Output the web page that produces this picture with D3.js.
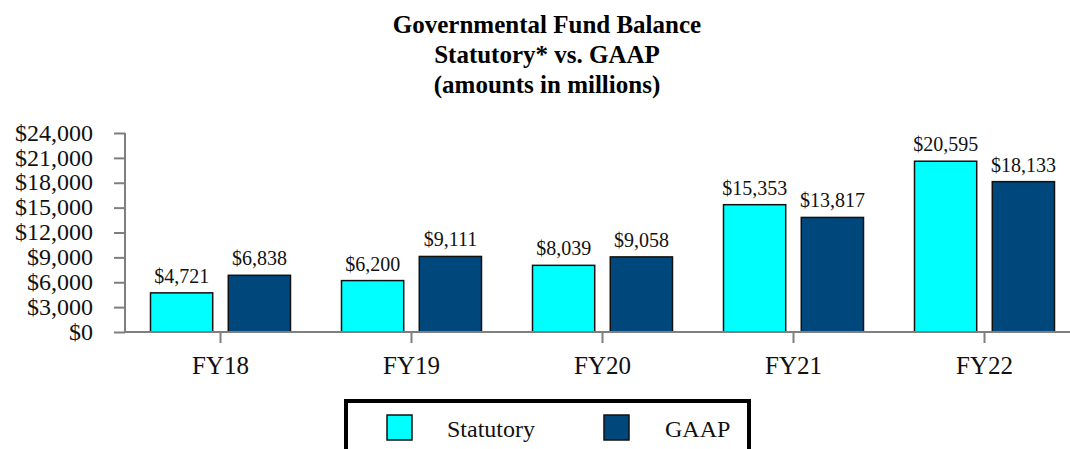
<!DOCTYPE html>
<html>
<head>
<meta charset="utf-8">
<script src="https://cdn.jsdelivr.net/npm/d3@7/dist/d3.min.js"></script>
<style>
  html, body { margin: 0; padding: 0; background: #fff; }
  svg { display: block; font-family: "Liberation Serif", "Times New Roman", serif; }
</style>
</head>
<body>
<svg id="chart" width="1070" height="449"></svg>
<script>
// Fund balance, amounts in millions
const years = ["FY18", "FY19", "FY20", "FY21", "FY22"];
const statutory = [4721, 6200, 8039, 15353, 20595];
const gaap = [6838, 9111, 9058, 13817, 18133];
const seriesNames = ["Statutory", "GAAP"];
const yTicks = [0, 3000, 6000, 9000, 12000, 15000, 18000, 21000, 24000];
const titleLines = ["Governmental Fund Balance", "Statutory* vs. GAAP", "(amounts in millions)"];

const colors = { Statutory: "#00ffff", GAAP: "#00487c" };
const axisGray = "#7f7f7f";
const serif = "'Liberation Serif', 'Times New Roman', serif";

const svg = d3.select("#chart");

const x = d3.scaleBand().domain(years).range([125, 1080]);
const y = d3.scaleLinear().domain([0, 24000]).range([332, 133]);
const inner = d3.scaleBand().domain(seriesNames).range([-70, 70]).paddingInner(0.2);

const money = v => "$" + d3.format(",")(v);

// Title
svg.append("text")
  .attr("x", 547).attr("y", 33)
  .attr("text-anchor", "middle")
  .style("font-weight", "bold").style("font-size", "25px")
  .attr("fill", "#000")
  .selectAll("tspan").data(titleLines).join("tspan")
  .attr("x", 547).attr("dy", (d, i) => i === 0 ? 0 : 30)
  .text(d => d);

// Bars
const rows = years.map((yr, i) => ({ yr, values: [
  { key: "Statutory", v: statutory[i] },
  { key: "GAAP", v: gaap[i] }
]}));

const groups = svg.append("g").selectAll("g").data(rows).join("g")
  .attr("transform", d => `translate(${x(d.yr) + x.bandwidth() / 2},0)`);

groups.selectAll("rect").data(d => d.values).join("rect")
  .attr("x", d => inner(d.key))
  .attr("width", inner.bandwidth())
  .attr("y", d => y(d.v))
  .attr("height", d => y(0) - y(d.v))
  .attr("fill", d => colors[d.key])
  .attr("stroke", "#111")
  .attr("stroke-width", 1.5);

groups.selectAll("text").data(d => d.values).join("text")
  .attr("x", d => inner(d.key) + inner.bandwidth() / 2)
  .attr("y", d => y(d.v) - 10)
  .attr("text-anchor", "middle")
  .style("font-size", "20px")
  .attr("fill", "#111")
  .text(d => money(d.v));

// Y axis
const yAxis = d3.axisLeft(y).tickValues(yTicks).tickSize(11).tickPadding(21)
  .tickFormat(money);
const gy = svg.append("g").attr("transform", "translate(125,0)").call(yAxis);
gy.select(".domain").attr("stroke", axisGray).attr("stroke-width", 2)
  .attr("d", `M0,${y(24000)}V${y(0)}`);
gy.selectAll(".tick line").attr("stroke", axisGray).attr("stroke-width", 2);
gy.selectAll(".tick text").style("font-size", "24px")
  .style("font-family", serif)
  .attr("fill", "#111").attr("dy", "0.3em");

// X axis
const xAxis = d3.axisBottom(x).tickSize(11).tickPadding(13);
const gx = svg.append("g").attr("transform", `translate(0,${y(0)})`).call(xAxis);
gx.select(".domain").attr("stroke", axisGray).attr("stroke-width", 2)
  .attr("d", "M125,0H1070");
gx.selectAll(".tick line").attr("stroke", axisGray).attr("stroke-width", 2);
gx.selectAll(".tick text").style("font-size", "25px")
  .style("font-family", serif)
  .attr("fill", "#111");

// Legend
const legend = svg.append("g");
legend.append("rect")
  .attr("x", 346).attr("y", 401).attr("width", 403).attr("height", 70)
  .attr("fill", "#fff").attr("stroke", "#000").attr("stroke-width", 4);
const legendX = [387, 604];
const items = legend.selectAll("g.item").data(seriesNames).join("g")
  .attr("class", "item")
  .attr("transform", (d, i) => `translate(${legendX[i]},415)`);
items.append("rect")
  .attr("width", 25).attr("height", 25)
  .attr("fill", d => colors[d])
  .attr("stroke", "#111").attr("stroke-width", 1.5);
items.append("text")
  .attr("x", (d, i) => i === 0 ? 60 : 61)
  .attr("y", 22)
  .style("font-size", "24px")
  .attr("fill", "#111")
  .text(d => d);
</script>
</body>
</html>
